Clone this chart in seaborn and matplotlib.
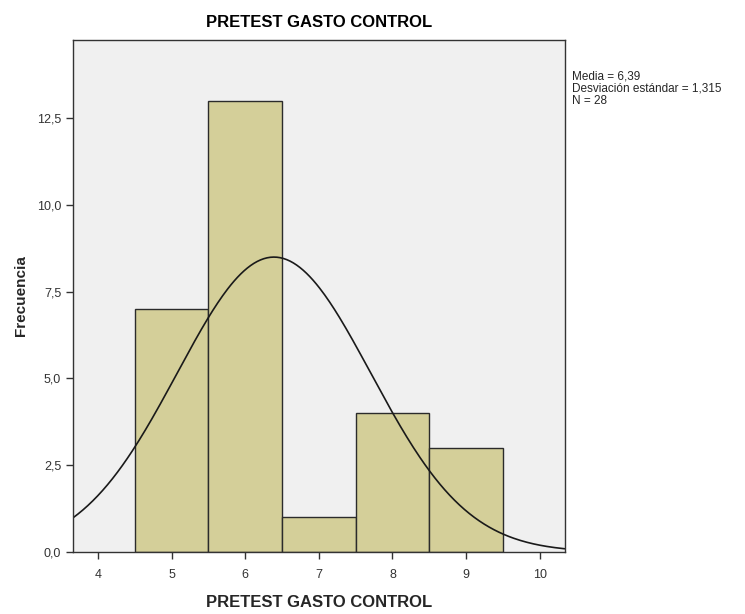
import numpy as np
import pandas as pd
import matplotlib.pyplot as plt
import seaborn as sns

# histogram data (SPSS output)
scores = [5, 6, 7, 8, 9]
counts = [7, 13, 1, 4, 3]
media = 6.39
desv = 1.315
n = 28

sns.set_style("white")
plt.rcParams['font.family'] = ['Liberation Sans', 'DejaVu Sans']

df = pd.DataFrame({'valor': scores, 'freq': counts})

fig = plt.figure(figsize=(7.45, 6.14), dpi=100)
ax = fig.add_axes([0.098, 0.101, 0.66, 0.834])
ax.set_facecolor('#f0f0f0')

sns.histplot(data=df, x='valor', weights='freq', binwidth=1, binrange=(4.5, 9.5),
             color='#d4cf99', edgecolor='#2b2b2b', linewidth=1.0, alpha=1, ax=ax)

# normal curve scaled to counts
xs = np.linspace(3.66, 10.34, 300)
ys = n * np.exp(-0.5 * ((xs - media) / desv) ** 2) / (desv * np.sqrt(2 * np.pi))
sns.lineplot(x=xs, y=ys, color='#1a1a1a', linewidth=1.2, ax=ax)

ax.set_xlim(3.66, 10.34)
ax.set_ylim(0, 14.75)
ax.set_xticks(range(4, 11))
ax.set_yticks([0, 2.5, 5, 7.5, 10, 12.5])
ax.set_yticklabels([f"{v:.1f}".replace('.', ',') for v in [0, 2.5, 5, 7.5, 10, 12.5]])
ax.tick_params(axis='both', direction='out', length=5, width=1, color='#333333',
               labelsize=9, labelcolor='#333333', left=True, bottom=True)
ax.tick_params(axis='x', pad=7)
for s in ax.spines.values():
    s.set_color('#333333')
    s.set_linewidth(1)

ax.set_xlabel('PRETEST GASTO CONTROL', fontsize=12, fontweight='bold', labelpad=10)
ax.set_ylabel('Frecuencia', fontsize=11, fontweight='bold', labelpad=6)
ax.set_title('PRETEST GASTO CONTROL', fontsize=12, fontweight='bold', pad=9, color='black')

fig.text(0.768, 0.885, f"Media = {media:.2f}".replace('.', ',') + "\n"
         f"Desviación estándar = {desv:.3f}".replace('.', ',') + "\n"
         f"N = {n}", fontsize=8.5, va='top', ha='left', linespacing=1.0)

fig.savefig('out.png', dpi=100)
